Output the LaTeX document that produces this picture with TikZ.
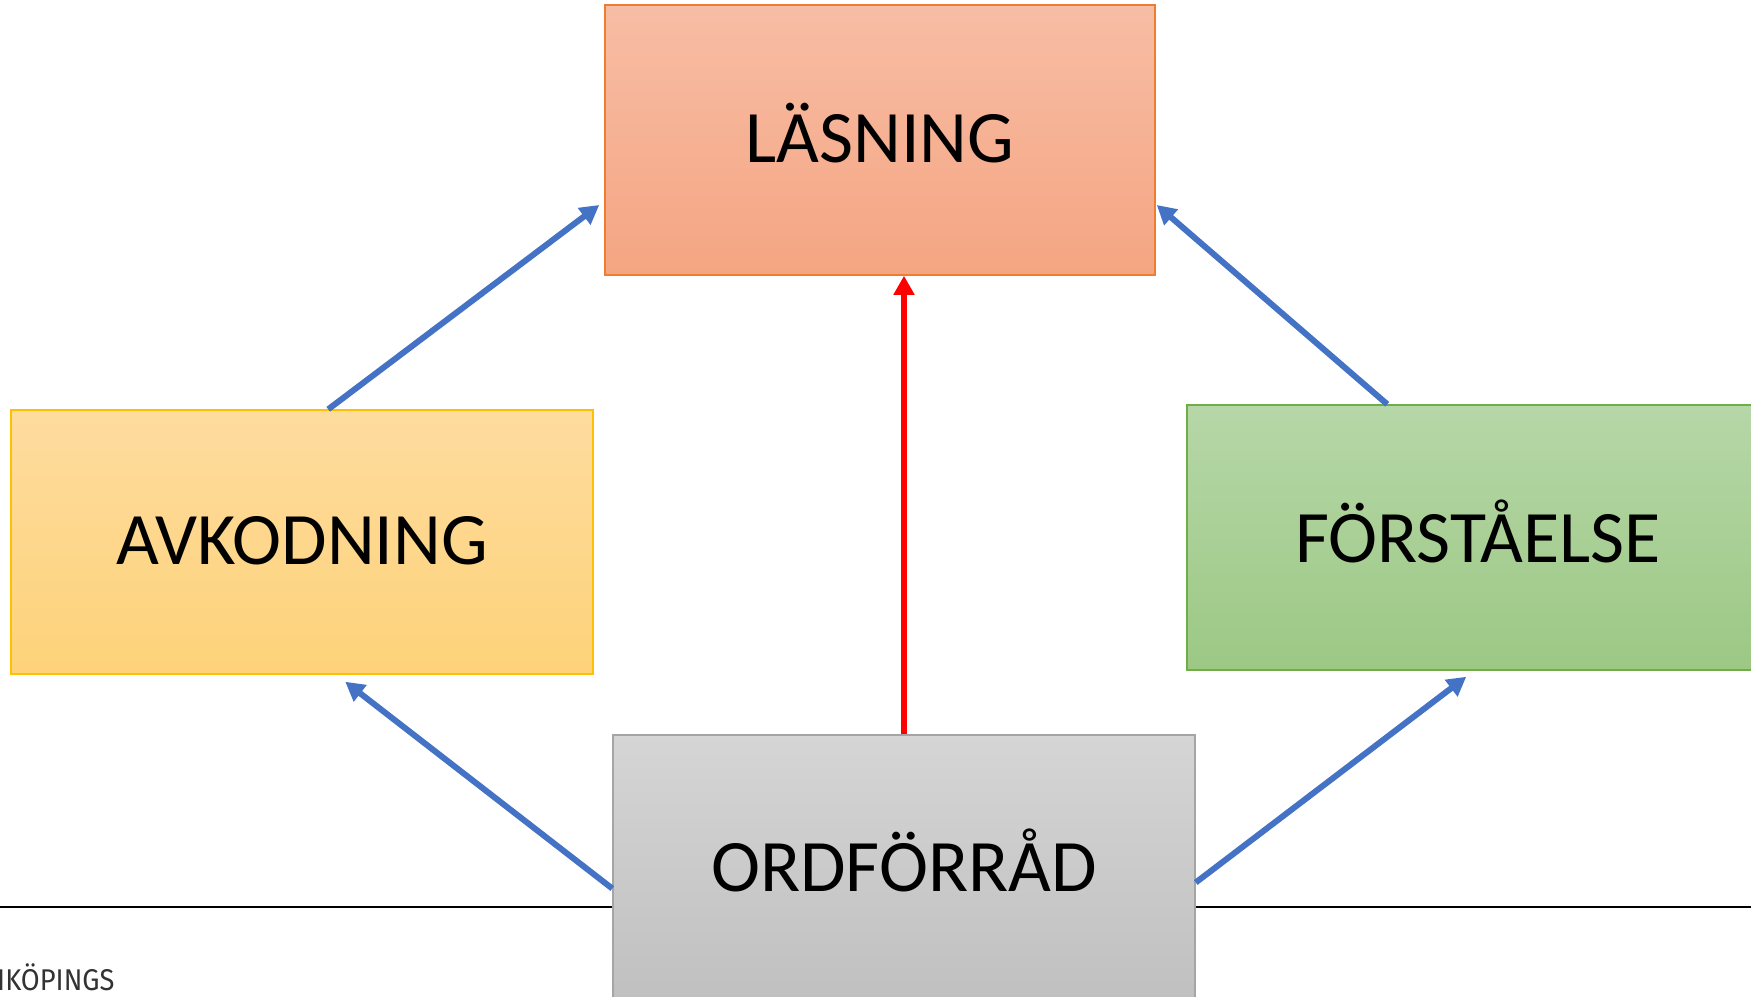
\documentclass[tikz,border=0pt]{standalone}
\usepackage{fontspec}
\setmainfont{Carlito}
\newfontfamily\footfont{Fira Sans}
\usetikzlibrary{arrows.meta,calc}
\definecolor{blueA}{HTML}{4472C4}
\definecolor{lasTop}{HTML}{F7BDA5}
\definecolor{lasBot}{HTML}{F5A582}
\definecolor{lasLine}{HTML}{ED7D31}
\definecolor{avkTop}{HTML}{FEDC9F}
\definecolor{avkBot}{HTML}{FDD279}
\definecolor{avkLine}{HTML}{FFC000}
\definecolor{frsTop}{HTML}{B6D7A8}
\definecolor{frsBot}{HTML}{9CC884}
\definecolor{frsLine}{HTML}{70AD47}
\definecolor{ordTop}{HTML}{D5D5D5}
\definecolor{ordBot}{HTML}{C0C0C0}
\definecolor{ordLine}{HTML}{A5A5A5}
\definecolor{footGray}{HTML}{333333}
\newcommand{\liftby}[2]{\raisebox{#1}[\height][\depth]{#2}}
\tikzset{
  boxstyle/.style={rectangle, inner sep=0pt, line width=1.5pt, font=\fontsize{74}{74}\selectfont, text=black},
  barrow/.style={draw=blueA, line width=6pt, -{Triangle[length=19pt,width=20pt]}},
  rarrow/.style={draw=red, line width=6pt, -{Triangle[length=19pt,width=20pt]}},
}
\begin{document}
\begin{tikzpicture}[x=1pt,y=-1pt]
\clip (0,0) rectangle (1751,996);
\useasboundingbox (0,0) rectangle (1751,996);
\fill[white] (0,0) rectangle (1751,996);
% base line
\coordinate (hl) at (0,907);
\coordinate (hr) at (1751,907);
\draw[line width=2pt, black] (hl) -- (hr);
% boxes
\node[boxstyle, draw=lasLine, top color=lasTop, bottom color=lasBot, minimum width=550pt, minimum height=270pt] (las) at (880,140) {\liftby{7pt}{LÄSNING}};
\node[boxstyle, draw=avkLine, top color=avkTop, bottom color=avkBot, minimum width=582pt, minimum height=264pt] (avk) at (302,542) {\liftby{1pt}{AVKODNING}};
\node[boxstyle, draw=frsLine, top color=frsTop, bottom color=frsBot, minimum width=582pt, minimum height=265pt] (frs) at (1478,537.5) {\liftby{6pt}{FÖRSTÅELSE}};
\node[boxstyle, draw=ordLine, top color=ordTop, bottom color=ordBot, minimum width=582pt, minimum height=265pt] (ord) at (904,867.5) {\liftby{7pt}{ORDFÖRRÅD}};
% footer text
\node[anchor=base west, inner sep=0pt, text=footGray, font=\footfont\fontsize{30}{30}\selectfont] (foot) at (-3,990) {\scalebox{0.91}[1]{IKÖPINGS}};
% connectors
\draw[barrow] ([xshift=318pt]avk.north west) -- ([xshift=-5pt,yshift=-65pt]las.west);
\draw[barrow] ([xshift=201pt]frs.north west) -- ([xshift=1pt,yshift=-65pt]las.east);
\draw[barrow] ([yshift=-21pt]ord.west) -- ([xshift=335pt,yshift=-7pt]avk.south west);
\draw[barrow] ([yshift=-15pt]ord.east) -- ([xshift=280pt,yshift=-6pt]frs.south west);
\draw[rarrow] (ord.north) -- (ord.north |- las.south);
\end{tikzpicture}
\end{document}
